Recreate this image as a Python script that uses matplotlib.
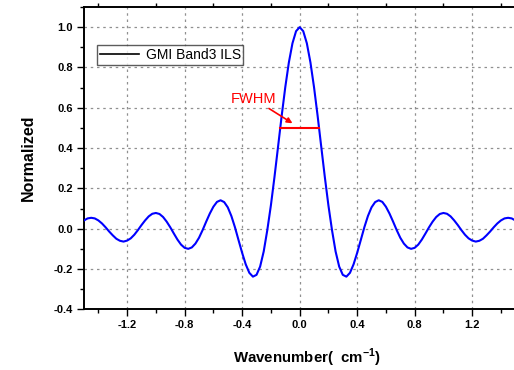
import matplotlib
matplotlib.use("Agg")
import matplotlib.pyplot as plt
import numpy as np
from matplotlib.ticker import MultipleLocator, FixedLocator

plt.rcParams['font.family'] = ['Liberation Sans', 'DejaVu Sans']

# Wavenumber samples (cm^-1) and normalized ILS values
wavenumber = np.linspace(-1.5, 1.5, 121)
ils_values = [
    0.041, 0.051, 0.054, 0.051, 0.041, 0.026, 0.007, -0.014, -0.033, -0.050,
    -0.060, -0.064, -0.059, -0.048, -0.030, -0.007, 0.018, 0.041, 0.061, 0.074,
    0.078, 0.073, 0.058, 0.035, 0.007, -0.024, -0.054, -0.079, -0.095, -0.100,
    -0.093, -0.074, -0.045, -0.007, 0.035, 0.075, 0.109, 0.133, 0.141, 0.132,
    0.106, 0.063, 0.007, -0.057, -0.120, -0.177, -0.219, -0.238, -0.229, -0.188,
    -0.113, -0.007, 0.116, 0.257, 0.408, 0.560, 0.702, 0.825, 0.920, 0.980,
    1.000,
    0.980, 0.920, 0.825, 0.702, 0.560, 0.408, 0.257, 0.116, -0.007, -0.113,
    -0.188, -0.229, -0.238, -0.219, -0.177, -0.120, -0.057, 0.007, 0.063, 0.106,
    0.132, 0.141, 0.133, 0.109, 0.075, 0.035, -0.007, -0.045, -0.074, -0.093,
    -0.100, -0.095, -0.079, -0.054, -0.024, 0.007, 0.035, 0.058, 0.073, 0.078,
    0.074, 0.061, 0.041, 0.018, -0.007, -0.030, -0.048, -0.059, -0.064, -0.060,
    -0.050, -0.033, -0.014, 0.007, 0.026, 0.041, 0.051, 0.054, 0.051, 0.041,
]
series_label = "GMI Band3 ILS"
fwhm_level = 0.5
fwhm_bounds = [-0.135, 0.135]
x_major = [-1.2, -0.8, -0.4, 0.0, 0.4, 0.8, 1.2]
y_major = [-0.4, -0.2, 0.0, 0.2, 0.4, 0.6, 0.8, 1.0]

fig = plt.figure(figsize=(5.14, 3.70), dpi=100)
ax = fig.add_axes([84/514, 60.7/370, 431.3/514, 302.3/370])

ax.plot(wavenumber, ils_values, color='#0000ff', lw=1.5, zorder=3)
ax.plot(fwhm_bounds, [fwhm_level, fwhm_level], color='red', lw=1.5, zorder=4)

ax.set_xlim(-1.5, 1.5)
ax.set_ylim(-0.4, 1.1)

ax.xaxis.set_major_locator(FixedLocator(x_major))
ax.xaxis.set_minor_locator(MultipleLocator(0.2))
ax.yaxis.set_major_locator(FixedLocator(y_major))
ax.yaxis.set_minor_locator(MultipleLocator(0.1))
ax.set_xticklabels(['%.1f' % v for v in x_major])
ax.set_yticklabels(['%.1f' % v for v in y_major])

ax.tick_params(which='major', direction='out', length=5, width=1, pad=3,
               labelsize=8, top=False)
ax.tick_params(which='minor', direction='out', length=3, width=1)
ax.tick_params(axis='x', which='minor', top=True)
for lab in ax.get_xticklabels() + ax.get_yticklabels():
    lab.set_fontweight('bold')

ax.grid(True, which='major', linestyle=(0, (2, 3)), color='#909090', lw=0.9)

for s in ax.spines.values():
    s.set_linewidth(1.4)

ax.set_xlabel(r'Wavenumber(  cm$^{\mathregular{-1}}$)', fontsize=10.8, fontweight='bold')
ax.xaxis.set_label_coords(0.517, -0.124)
ax.set_ylabel('Normalized', fontsize=11.5, fontweight='bold', labelpad=13)

leg = ax.legend([plt.Line2D([], [], color='black', lw=1.2)], [series_label],
                loc='upper left', bbox_to_anchor=(0.014, 0.897), fontsize=10,
                frameon=True, fancybox=False, edgecolor='#333333',
                handlelength=2.8, borderpad=0.2, handletextpad=0.5)
leg.get_frame().set_linewidth(1.0)

ax.annotate('FWHM', xy=(-0.05, 0.523), xytext=(-0.48, 0.645),
            color='red', fontsize=10.5, va='center', ha='left',
            arrowprops=dict(arrowstyle='-|>', color='red', lw=1.2,
                            mutation_scale=8, shrinkA=0, shrinkB=0),
            annotation_clip=False)

fig.savefig('out.png', dpi=100)
